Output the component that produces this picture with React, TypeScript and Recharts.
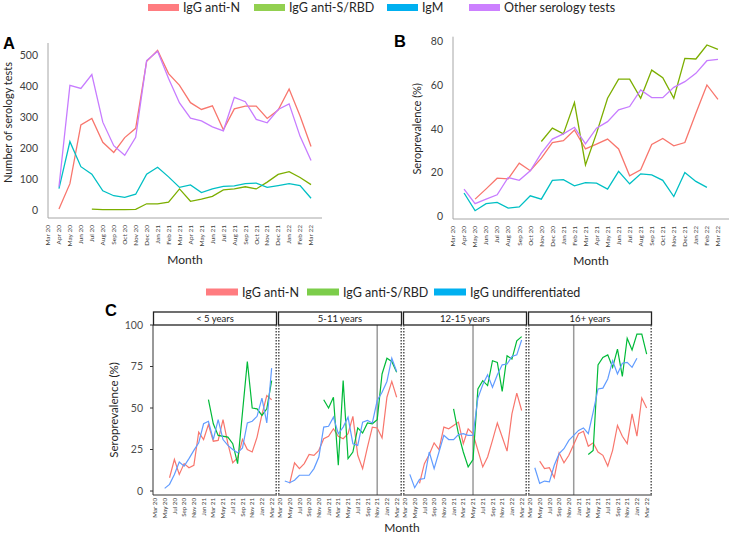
import React from "react";
import { Label, Line, LineChart, ReferenceLine, XAxis, YAxis } from "recharts";

const FONT = "Lato, 'Open Sans', sans-serif";
const INK = "#262626";

const months = [
  "Mar 20", "Apr 20", "May 20", "Jun 20", "Jul 20", "Aug 20", "Sep 20", "Oct 20", "Nov 20", "Dec 20",
  "Jan 21", "Feb 21", "Mar 21", "Apr 21", "May 21", "Jun 21", "Jul 21", "Aug 21", "Sep 21", "Oct 21",
  "Nov 21", "Dec 21", "Jan 22", "Feb 22", "Mar 22",
];
const monthTicks = months.map((_, i) => i);
const facetTicks = monthTicks.filter((i) => i % 2 === 0);

// A: number of serology tests per month
const testsAntiN = [null, 3, 85, 275, 296, 219, 186, 234, 264, 481, 516, 441, 403, 347, 325, 337, 259, 327, 336, 336, 296, 323, 391, 304, 205];
const testsAntiS = [null, null, null, null, 3, 1, 1, 1, 2, 20, 20, 25, 68, 28, 35, 44, 65, 68, 75, 68, 90, 115, 124, 105, 82];
const testsIgM = [null, 69, 221, 140, 116, 62, 46, 41, 51, 116, 138, 107, 73, 81, 56, 68, 76, 78, 85, 87, 73, 79, 85, 79, 38];
const testsOther = [null, 75, 403, 393, 438, 284, 208, 177, 235, 483, 513, 425, 346, 297, 288, 269, 256, 364, 350, 293, 282, 325, 343, 238, 160];
const testsTicks = [0, 100, 200, 300, 400, 500];

// B: seroprevalence by test type (%)
const prevAntiN = [null, null, 7.9, 12.6, 17.5, 17.2, 24.4, 20.9, 26.7, 33.8, 34.7, 39.6, 30.9, 33.1, 35.4, 30.9, 18.6, 21.3, 32.9, 35.7, 32.3, 33.8, 47.2, 60.2, 53.6];
const prevAntiS = [null, null, null, null, null, null, null, null, 34.3, 40.4, 37.8, 52.1, 23.6, 38, 54.1, 62.9, 62.9, 54.1, 67, 63.5, 54.1, 72.4, 72.1, 78.5, 76.5];
const prevIgM = [null, 10.7, 2.6, 5.8, 6.4, 3.8, 4.3, 9.4, 7.9, 16.5, 16.8, 14, 15.5, 15.2, 12.5, 20.6, 14.9, 19.5, 19, 16.5, 9.1, 20.1, 16, 13.3, null];
const prevOther = [null, 12.5, 5.8, 7.9, 9.9, 17.8, 16.5, 20.9, 29, 35.4, 37.8, 40.8, 33.2, 40.4, 43.4, 48.8, 50.3, 57.9, 54.4, 54.4, 59.1, 61.7, 65.5, 71.3, 71.9];
const prevTicks = [0, 20, 40, 60, 80];

// C: seroprevalence by age group (%)
const ageGroups = ["< 5 years", "5-11 years", "12-15 years", "16+ years"];
const under5AntiN = [null, null, null, 8, 19, 10, 16.5, 14, 15.5, 35.5, 31, 40, 30, 30.5, 43, 28.5, 17, 20, 31, 25, 23.5, 32.5, 46, 57.5, 55];
const under5AntiS = [null, null, null, null, null, null, null, null, null, null, null, 55, 40.5, 33.5, null, 32.5, 28.5, 16.5, null, 78, 50, 49.5, 45.5, 49.5, 66.5];
const under5Undiff = [null, null, 1.6, 4, 10, 17.5, 15, 19.5, 24.5, 29, 40.5, 42, 31, 43, 31, 27.5, 25, 23, 26, 41, 42, 45, 56, 41, 74];
const age5to11AntiN = [null, null, 4.6, 17, 13.5, 16.5, 22, 21.5, 24.5, 31.5, 33, 37.5, 33, 31.5, 34.5, 45, 21.5, 13.5, 26.5, 38.5, 38, 32, 56.5, 66, 56.5];
const age5to11AntiS = [null, null, null, null, null, null, null, null, null, 55, 50, 56.5, 15.5, 66.5, 19.5, 23.5, 38, 35, 41, 40.5, 43, 70.5, 80, 78, 71.5];
const age5to11Undiff = [null, 6, 5, 6.5, 9.5, 9.5, 9.5, 13.5, 20.5, 38.5, 39, 44.5, 34.5, 38.5, 44.5, 28.5, 27.5, 41.5, 42.5, 41, 54.5, 59.5, 66, 80, 72];
const age12to15AntiN = [null, null, null, 4.6, 16.5, 22, 29, 25, 38.5, 37.5, 39.5, 41.5, 28.5, 37.5, 34.5, 24.5, 14.5, 20.5, 30.5, 41, 32.5, 24, 46.5, 59, 48.5];
const age12to15AntiS = [null, null, null, null, null, null, null, null, null, null, 49.5, 34.5, 23.5, 14.5, 19, 61.5, 66.5, 63.5, 78.5, 77.5, 60, 81.5, 79.5, 90.5, 93];
const age12to15Undiff = [null, 10, 2, 7, 7.5, 23.5, 13.5, 23.5, 33.5, 31, 31, 34, 34.5, 33.5, 33.5, 56, 64, 70, 62.5, 70, 76, 76.5, 81, 82, 91];
const age16plusAntiN = [null, null, 18, 13.5, 14, 8, 23, 17, 21.5, 28, 34.5, 36, 27, 29, 23.5, 21.5, 15, 24.5, 39.5, 33, 28.5, 46.5, 33, 56, 50];
const age16plusAntiS = [null, null, null, null, null, null, null, null, null, null, null, null, 22, 24.5, 76, 80.5, 82, 74.5, 85.5, 69, 92, 85, 94.5, 94.5, 82.5];
const age16plusUndiff = [null, 14, 4.6, 6, 5.5, 15.5, 22.5, 25.5, 30.5, 33.5, 36.5, 38, 34.5, 47.5, 61.5, 62, 67.5, 78.5, 70.5, 77, 77.5, 74.5, 80, null, null];
const rolloutMonth = [null, 20, 14, 9];
const facetYTicks = [0, 25, 50, 75, 100];

const topLegend = ["IgG anti-N", "IgG anti-S/RBD", "IgM", "Other serology tests"];
const topLegendColors = ["#ff7c80", "#92d050", "#00b0f0", "#cc80ff"];
const cLegend = ["IgG anti-N", "IgG anti-S/RBD", "IgG undifferentiated"];
const cLegendColors = ["#ff7c80", "#7ccd4a", "#00b0f0"];

type Series = Record<string, (number | null)[]>;
const toRows = (series: Series) =>
  months.map((_, i) => {
    const row: Record<string, number | null> = { m: i };
    for (const key of Object.keys(series)) row[key] = series[key][i];
    return row;
  });

const rowsA = toRows({ antiN: testsAntiN, antiS: testsAntiS, igm: testsIgM, other: testsOther });
const rowsB = toRows({ antiN: prevAntiN, antiS: prevAntiS, igm: prevIgM, other: prevOther });
const facetRows = [
  toRows({ antiN: under5AntiN, antiS: under5AntiS, undiff: under5Undiff }),
  toRows({ antiN: age5to11AntiN, antiS: age5to11AntiS, undiff: age5to11Undiff }),
  toRows({ antiN: age12to15AntiN, antiS: age12to15AntiS, undiff: age12to15Undiff }),
  toRows({ antiN: age16plusAntiN, antiS: age16plusAntiS, undiff: age16plusUndiff }),
];

const ggRed = "#F8766D";
const ggOlive = "#7CAE00";
const ggCyan = "#00BFC4";
const ggPurple = "#C77CFF";

function MonthTick(props: any) {
  const { x, y, payload, size } = props;
  return (
    <text
      transform={`translate(${x},${y}) rotate(-90)`}
      textAnchor="end"
      dy="0.35em"
      fontSize={size}
      fill="#404040"
      fontFamily={FONT}
    >
      {months[payload.value]}
    </text>
  );
}

function SideTitle(props: any) {
  const { viewBox, text, dx, dy, size } = props;
  const cx = viewBox.x + dx;
  const cy = viewBox.y + viewBox.height / 2 + dy;
  return (
    <text
      x={cx}
      y={cy}
      transform={`rotate(-90 ${cx} ${cy})`}
      textAnchor="middle"
      dominantBaseline="central"
      fontSize={size}
      fill={INK}
      fontFamily={FONT}
    >
      {text}
    </text>
  );
}

const lineProps = { type: "linear" as const, dot: false, activeDot: false, isAnimationActive: false, strokeWidth: 1.3 };

function PanelA() {
  return (
    <LineChart width={330} height={270} data={rowsA} margin={{ top: 43, right: 8, bottom: 0, left: 0 }}>
      <XAxis
        dataKey="m"
        type="number"
        domain={[0, 25]}
        ticks={monthTicks}
        interval={0}
        height={52}
        tickLine={false}
        tickSize={0}
        tickMargin={7}
        axisLine={{ stroke: "#a6a6a6" }}
        tick={<MonthTick size={6.5} />}
      >
        <Label value="Month" position="insideBottom" offset={6} fontSize={12} fill={INK} fontFamily={FONT} />
      </XAxis>
      <YAxis
        type="number"
        domain={[-26, 540]}
        ticks={testsTicks}
        width={48}
        tickLine={false}
        tickSize={0}
        tickMargin={10}
        axisLine={{ stroke: "#a6a6a6" }}
        tick={{ fontSize: 10.5, fill: "#404040", fontFamily: FONT }}
      >
        <Label content={(p: any) => <SideTitle {...p} text="Number of serology tests" dx={7} dy={-8} size={11} />} />
      </YAxis>
      <Line dataKey="antiN" stroke={ggRed} {...lineProps} />
      <Line dataKey="antiS" stroke={ggOlive} {...lineProps} />
      <Line dataKey="igm" stroke={ggCyan} {...lineProps} />
      <Line dataKey="other" stroke={ggPurple} {...lineProps} />
    </LineChart>
  );
}

function PanelB() {
  return (
    <LineChart width={365} height={271} data={rowsB} margin={{ top: 36.7, right: 6, bottom: 0, left: 0 }}>
      <XAxis
        dataKey="m"
        type="number"
        domain={[0, 25]}
        ticks={monthTicks}
        interval={0}
        height={52}
        tickLine={false}
        tickSize={0}
        tickMargin={7}
        axisLine={{ stroke: "#a6a6a6" }}
        tick={<MonthTick size={6.5} />}
      >
        <Label value="Month" position="insideBottom" offset={6} fontSize={12} fill={INK} fontFamily={FONT} />
      </XAxis>
      <YAxis
        type="number"
        domain={[-1.2, 82.3]}
        ticks={prevTicks}
        width={83}
        tickLine={false}
        tickSize={0}
        tickMargin={10}
        axisLine={{ stroke: "#a6a6a6" }}
        tick={{ fontSize: 10.5, fill: "#404040", fontFamily: FONT }}
      >
        <Label content={(p: any) => <SideTitle {...p} text="Seroprevalence (%)" dx={47} dy={1} size={11} />} />
      </YAxis>
      <Line dataKey="antiN" stroke={ggRed} {...lineProps} />
      <Line dataKey="antiS" stroke={ggOlive} {...lineProps} />
      <Line dataKey="igm" stroke={ggCyan} {...lineProps} />
      <Line dataKey="other" stroke={ggPurple} {...lineProps} />
    </LineChart>
  );
}

const facetX = [153, 278, 403, 528];
const facetW = 124;
const axisW = 53;
const pad = 5;

function Facet({ idx }: { idx: number }) {
  const first = idx === 0;
  const rollout = rolloutMonth[idx];
  const leftSpace = first ? axisW : pad;
  return (
    <div style={{ position: "absolute", left: facetX[idx] - leftSpace, top: 300 }}>
      <LineChart
        width={facetW + leftSpace + pad}
        height={225}
        data={facetRows[idx]}
        margin={{ top: 25, right: pad, bottom: 0, left: first ? 0 : pad }}
      >
        <XAxis
          dataKey="m"
          type="number"
          domain={[-0.4, 25.1]}
          ticks={facetTicks}
          interval={0}
          height={30}
          tickLine={false}
          tickSize={0}
          tickMargin={3}
          axisLine={{ stroke: "#333" }}
          tick={<MonthTick size={6.2} />}
        />
        <YAxis
          type="number"
          domain={[-2.4, 100]}
          ticks={facetYTicks}
          hide={!first}
          width={axisW}
          tickSize={3}
          tickMargin={7}
          tickLine={{ stroke: "#333" }}
          axisLine={{ stroke: "#333" }}
          tick={{ fontSize: 10.5, fill: "#4d4d4d", fontFamily: FONT }}
        >
          <Label content={(p: any) => <SideTitle {...p} text="Seroprevalence (%)" dx={13} dy={0} size={11.5} />} />
        </YAxis>
        {rollout != null && <ReferenceLine x={rollout} stroke="#9a9a9a" strokeWidth={1.5} />}
        <Line dataKey="antiN" stroke="#F8766D" connectNulls {...lineProps} strokeWidth={1.2} />
        <Line dataKey="antiS" stroke="#00BA38" connectNulls {...lineProps} strokeWidth={1.2} />
        <Line dataKey="undiff" stroke="#619CFF" connectNulls {...lineProps} strokeWidth={1.2} />
      </LineChart>
    </div>
  );
}

function Overlay() {
  const topX = [148, 254, 387, 469];
  const cX = [206, 307, 434];
  return (
    <svg width={735} height={537} style={{ position: "absolute", left: 0, top: 0, pointerEvents: "none" }}>
      <g fontFamily="'Liberation Sans', Arial, sans-serif" fontWeight="bold" fontSize={16.5} fill="#000">
        <text x={3} y={49}>A</text>
        <text x={394} y={47}>B</text>
        <text x={105} y={316}>C</text>
      </g>
      <g fontFamily={FONT} fontSize={12.5} fill={INK}>
        {topLegend.map((name, i) => (
          <g key={name}>
            <rect x={topX[i]} y={4} width={31} height={7} fill={topLegendColors[i]} />
            <text x={topX[i] + 35} y={7.5} dominantBaseline="central">{name}</text>
          </g>
        ))}
        {cLegend.map((name, i) => (
          <g key={name}>
            <rect x={cX[i]} y={288.5} width={32} height={7} fill={cLegendColors[i]} />
            <text x={cX[i] + 36} y={292} dominantBaseline="central">{name}</text>
          </g>
        ))}
        <text x={402} y={527} textAnchor="middle" dominantBaseline="central" fontSize={12}>Month</text>
      </g>
      {ageGroups.map((name, i) => (
        <g key={name}>
          <rect x={facetX[i] + 0.5} y={312} width={facetW - 1} height={13} fill="#fff" stroke="#222" strokeWidth={1.3} />
          <text
            x={facetX[i] + facetW / 2}
            y={318.7}
            textAnchor="middle"
            dominantBaseline="central"
            fontSize={9.5}
            fill="#222"
            fontFamily={FONT}
          >
            {name}
          </text>
          {i > 0 && (
            <line x1={facetX[i] + 0.8} x2={facetX[i] + 0.8} y1={325} y2={495} stroke="#555" strokeWidth={1.5} strokeDasharray="1.5 1.5" />
          )}
          <line
            x1={facetX[i] + facetW - 0.8}
            x2={facetX[i] + facetW - 0.8}
            y1={325}
            y2={495}
            stroke="#555"
            strokeWidth={1.5}
            strokeDasharray="1.5 1.5"
          />
        </g>
      ))}
    </svg>
  );
}

export default function App() {
  return (
    <div style={{ position: "absolute", left: 0, top: 0, width: 735, height: 537, background: "#fff", fontFamily: FONT }}>
      <div style={{ position: "absolute", left: 0, top: 0 }}>
        <PanelA />
      </div>
      <div style={{ position: "absolute", left: 370, top: 0 }}>
        <PanelB />
      </div>
      {ageGroups.map((name, i) => (
        <Facet key={name} idx={i} />
      ))}
      <Overlay />
    </div>
  );
}
